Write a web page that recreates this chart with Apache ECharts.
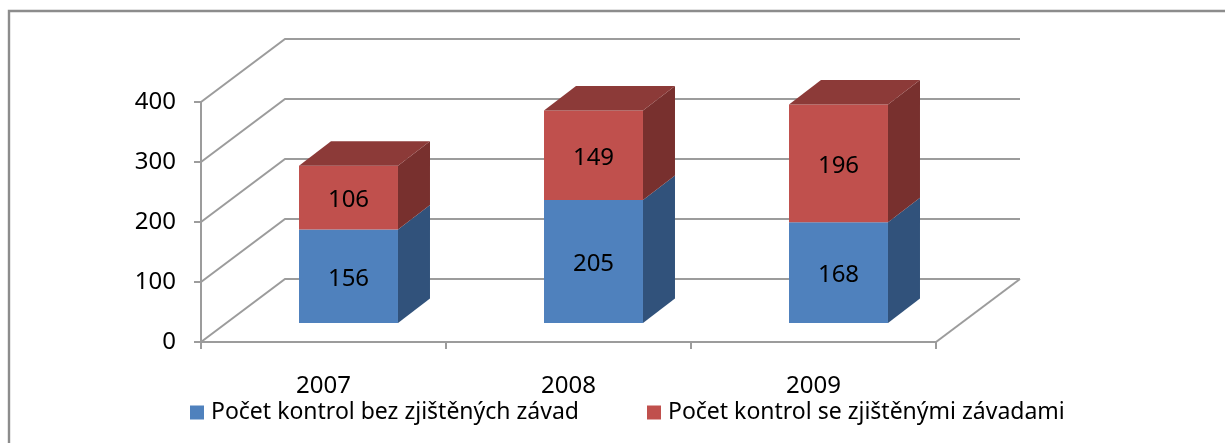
<!DOCTYPE html>
<html>
<head>
<meta charset="utf-8">
<style>html,body{margin:0;padding:0;background:#fff}#c{width:1225px;height:443px}</style>
<script src="https://cdn.jsdelivr.net/npm/echarts@6/dist/echarts.min.js"></script>
</head>
<body>
<div id="c"></div>
<script>
const categories = ['2007', '2008', '2009'];
const seriesNames = ['Počet kontrol bez zjištěných závad', 'Počet kontrol se zjištěnými závadami'];
const withoutDefects = [156, 205, 168];
const withDefects = [106, 149, 196];
const yTicks = [0, 100, 200, 300, 400];

const FONT = '"Noto Sans", sans-serif';
const DEPTH = [84, -63];
const BAR_DEPTH = [32, -24.5];
const BAR_SHIFT = [25, -19];
const BAR_RATIO = 0.404;
const LINE = '#9c9c9c';
const LINE_W = 2;

function wallItem(params, api) {
  const v = api.value(0);
  const cs = params.coordSys;
  const p = api.coord([0, v]);
  const left = cs.x, right = cs.x + cs.width, y = p[1];
  const style = { stroke: LINE, lineWidth: LINE_W, fill: null };
  const children = [{
    type: 'polyline',
    shape: { points: [[left, y], [left + DEPTH[0], y + DEPTH[1]], [right + DEPTH[0], y + DEPTH[1]]] },
    style
  }];
  if (v === 0) {
    children.push({
      type: 'line',
      shape: { x1: right, y1: y, x2: right + DEPTH[0], y2: y + DEPTH[1] },
      style
    });
  }
  return { type: 'group', children };
}

function barRenderer(front, side, top) {
  return function (params, api) {
    const c = api.coord([api.value(0), api.value(1)]);
    const t = api.coord([api.value(0), api.value(2)]);
    const w = api.size([1, 0])[0] * BAR_RATIO;
    const x0 = c[0] + BAR_SHIFT[0] - w / 2, x1 = x0 + w;
    const y0 = c[1] + BAR_SHIFT[1], y1 = t[1] + BAR_SHIFT[1];
    const dx = BAR_DEPTH[0], dy = BAR_DEPTH[1];
    const children = [
      { type: 'polygon', shape: { points: [[x1, y0], [x1 + dx, y0 + dy], [x1 + dx, y1 + dy], [x1, y1]] }, style: { fill: side } },
      { type: 'polygon', shape: { points: [[x0, y0], [x1, y0], [x1, y1], [x0, y1]] }, style: { fill: front } }
    ];
    if (top) {
      children.push({ type: 'polygon', shape: { points: [[x0, y1], [x1, y1], [x1 + dx, y1 + dy], [x0 + dx, y1 + dy]] }, style: { fill: top } });
    }
    children.push({
      type: 'text',
      style: {
        x: (x0 + x1) / 2, y: (y0 + y1) / 2 + 3,
        text: String(api.value(3)), align: 'center', verticalAlign: 'middle',
        font: '24px ' + FONT, fill: '#000'
      }
    });
    return { type: 'group', children };
  };
}

const lowerData = categories.map((c, i) => [i, 0, withoutDefects[i], withoutDefects[i]]);
const upperData = categories.map((c, i) => [i, withoutDefects[i], withoutDefects[i] + withDefects[i], withDefects[i]]);

const chart = echarts.init(document.getElementById('c'), null, { renderer: 'canvas' });
chart.setOption({
  animation: false,
  backgroundColor: '#fff',
  grid: { left: 201, top: 102, width: 735, height: 240, containLabel: false },
  xAxis: {
    type: 'category', data: categories, boundaryGap: true,
    axisLine: { lineStyle: { color: LINE, width: LINE_W } },
    axisTick: { show: true, length: 7, alignWithLabel: false, lineStyle: { color: LINE, width: LINE_W } },
    axisLabel: { color: '#000', fontFamily: FONT, fontSize: 24, margin: 32 },
    splitLine: { show: false }
  },
  yAxis: {
    type: 'value', min: 0, max: 400, interval: 100,
    axisLine: { show: true, lineStyle: { color: LINE, width: LINE_W } },
    axisTick: { show: true, length: 7, lineStyle: { color: LINE, width: LINE_W } },
    axisLabel: { color: '#000', fontFamily: FONT, fontSize: 24, margin: 25, padding: [6, 0, 0, 0] },
    splitLine: { show: false }
  },
  legend: {
    left: 185, top: 396, itemWidth: 14, itemHeight: 14, itemGap: 68, icon: 'rect',
    data: seriesNames,
    textStyle: { color: '#000', fontFamily: FONT, fontSize: 23, padding: [3, 0, 0, 2] }
  },
  graphic: [{
    type: 'polyline', silent: true, z: -1,
    shape: { points: [[9, 443], [9, 11], [1225, 11]] },
    style: { fill: null, stroke: '#8c8c8c', lineWidth: 2.4 }
  }],
  series: [
    { type: 'custom', name: 'walls', silent: true, z: 1, data: yTicks.map(v => [v]),
      encode: { y: 0 }, renderItem: wallItem },
    { type: 'custom', name: seriesNames[0], z: 2, data: lowerData, itemStyle: { color: '#4F81BD' },
      encode: { x: 0, y: [1, 2] }, renderItem: barRenderer('#4F81BD', '#31527B', null) },
    { type: 'custom', name: seriesNames[1], z: 3, data: upperData, itemStyle: { color: '#C0504D' },
      encode: { x: 0, y: [1, 2] }, renderItem: barRenderer('#C0504D', '#78302E', '#8C3A38') }
  ]
});
</script>
</body>
</html>
